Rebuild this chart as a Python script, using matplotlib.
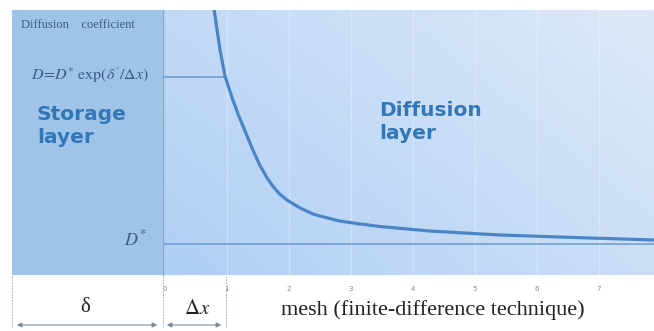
import numpy as np
import matplotlib.pyplot as plt
from matplotlib.patches import Rectangle, FancyArrowPatch
from matplotlib.colors import LinearSegmentedColormap

W, H = 654, 331

# diffusion coefficient read along the mesh (arbitrary units)
mesh_x = [0.79, 0.84, 0.89, 0.97, 1.08, 1.18, 1.26, 1.32, 1.42, 1.53, 1.65, 1.74,
          1.85, 1.97, 2.18, 2.39, 2.50, 2.82, 3.15, 3.47, 4.27, 5.40, 6.6, 7.89]
coef_d = [267, 246, 225, 199, 178, 161, 149, 140, 125, 110, 97, 89,
          81, 75, 67, 61, 59, 54, 51, 48.5, 44, 40, 37.5, 35]
d_star = 31
d_level = 198
ticks = [0, 1, 2, 3, 4, 5, 6, 7]


def fx(px):
    return px / W


def fy(py):
    return 1 - py / H


plt.rcParams['mathtext.fontset'] = 'stix'
fig = plt.figure(figsize=(W / 100, H / 100), dpi=100)

# storage layer block
fig.patches.append(Rectangle((fx(12), fy(275)), fx(163) - fx(12), fy(10) - fy(275),
                             transform=fig.transFigure, facecolor='#9fc4e8',
                             edgecolor='none', zorder=0))

ax = fig.add_axes([fx(163), fy(275), fx(654) - fx(163), fy(10) - fy(275)])
ax.set_xlim(-0.03, 7.89)
ax.set_ylim(0, 265)

# light blue gradient behind the diffusion layer
gx, gy = np.meshgrid(np.linspace(0, 1, 200), np.linspace(1, 0, 100))
grad = 0.6 * gx + 0.4 * gy
ax.imshow(grad, extent=[-0.03, 7.89, 0, 265], aspect='auto',
          cmap=LinearSegmentedColormap.from_list('bg', ['#b0cff4', '#dde9f8']), zorder=0)

for t in ticks[1:]:
    ax.axvline(t, color='white', lw=1, alpha=0.3, zorder=1)

ax.axhline(d_star, color='#6a9ad0', lw=1.1, zorder=2)
ax.hlines(d_level, -0.03, 0.97, color='#6a9ad0', lw=1.1, zorder=2)
ax.plot(mesh_x, coef_d, color='#4a86c6', lw=2.3, zorder=3,
        solid_capstyle='round', solid_joinstyle='round')

ax.set_xticks(ticks)
ax.set_xticklabels([str(t) for t in ticks])
ax.tick_params(axis='x', length=0, labelsize=5, labelcolor='#888888', pad=8)
ax.set_yticks([])
for s in ['top', 'right', 'bottom']:
    ax.spines[s].set_visible(False)
ax.spines['left'].set_color('#7fa8d6')
ax.spines['left'].set_linewidth(1)

txt_c = '#3b5b86'
fig.text(fx(21), fy(25), 'Diffusion    coefficient', family='Liberation Serif',
         fontsize=9, color=txt_c, va='center')
fig.text(fx(149), fy(75), r'$D\!=\!D^{*}\ \mathrm{exp}(\delta^{\prime}/\Delta x)$',
         fontsize=11.5, color=txt_c, va='center', ha='right')
fig.text(fx(147), fy(239), r'$D^{*}$', fontsize=13, color=txt_c, va='center', ha='right')
fig.text(fx(37), fy(126), 'Storage\nlayer', family='DejaVu Sans', fontweight='bold',
         fontsize=14.5, color='#3277b8', va='center', linespacing=1.3)
fig.text(fx(379), fy(122), 'Diffusion\nlayer', family='DejaVu Sans', fontweight='bold',
         fontsize=14.5, color='#3277b8', va='center', linespacing=1.3)

# bottom labels and dimension arrows
fig.text(fx(85), fy(308), 'δ', family='Liberation Serif', fontsize=15, ha='center',
         va='center', color='#222222')
fig.text(fx(197), fy(308), r'$\Delta x$', fontsize=15, ha='center', va='center',
         color='#222222')
fig.text(fx(281), fy(310), 'mesh (finite-difference technique)', family='Liberation Serif',
         fontsize=16, va='center', color='#222222')

for x0, x1 in [(14, 160), (164, 224)]:
    fig.add_artist(FancyArrowPatch(
        (fx(x0), fy(325)), (fx(x1), fy(325)), transform=fig.transFigure,
        arrowstyle='<|-|>', mutation_scale=7, color='#7a8aa0', lw=0.8))
for xv in [12, 163, 226]:
    fig.add_artist(plt.Line2D([fx(xv), fx(xv)], [fy(276), fy(327)],
                              transform=fig.transFigure, color='#b0b8c4', lw=0.7,
                              ls=(0, (2, 1))))

fig.savefig('out.png', dpi=100)
